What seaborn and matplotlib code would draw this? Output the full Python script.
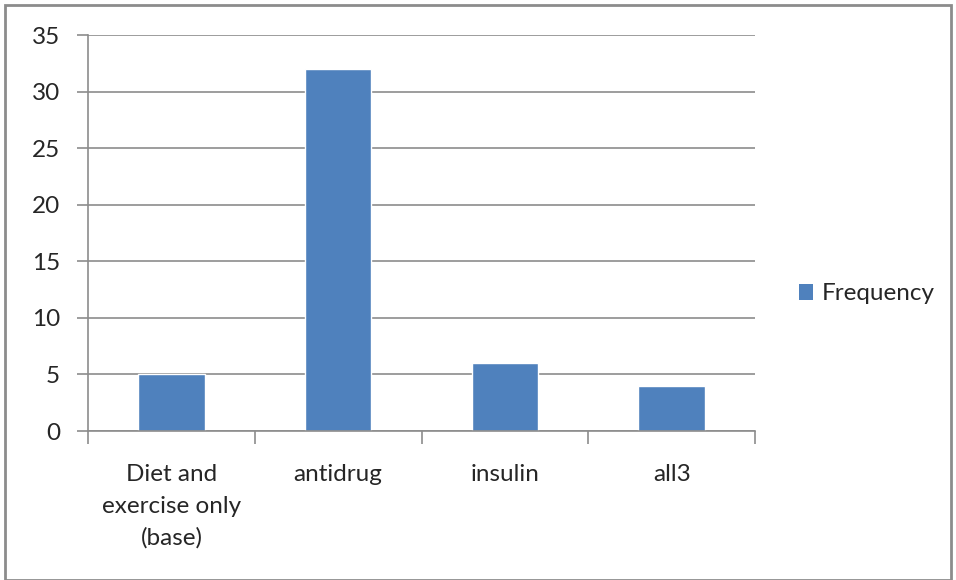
import matplotlib
matplotlib.use("Agg")
import matplotlib.pyplot as plt
from matplotlib.patches import Rectangle, Patch
import pandas as pd
import seaborn as sns

categories = ["Diet and\nexercise only\n(base)", "antidrug", "insulin", "all3"]
frequency = [5, 32, 6, 4]
y_ticks = [0, 5, 10, 15, 20, 25, 30, 35]

df = pd.DataFrame({"treatment": categories, "Frequency": frequency})

sns.set_style("white")
plt.rcParams["font.family"] = ["Lato", "DejaVu Sans"]

bar_color = "#4F81BD"
grid_color = "#8C8C8C"
text_color = "#262626"

fig = plt.figure(figsize=(9.56, 5.8), dpi=100)
ax = fig.add_axes([88 / 956, 1 - 431 / 580, (755 - 88) / 956, (431 - 35) / 580])

sns.barplot(data=df, x="treatment", y="Frequency", color=bar_color,
            width=0.4, saturation=1, ax=ax)

ax.set_ylim(0, 35)
ax.set_xlim(-0.5, len(categories) - 0.5)
ax.set_yticks(y_ticks)
ax.yaxis.grid(True, color=grid_color, linewidth=1.2)
ax.set_axisbelow(True)
ax.set_xlabel("")
ax.set_ylabel("")

for side in ["top", "right"]:
    ax.spines[side].set_visible(False)
for side in ["left", "bottom"]:
    ax.spines[side].set_color(grid_color)
    ax.spines[side].set_linewidth(1.2)

# y ticks as short gray stubs, x ticks at category boundaries
ax.tick_params(axis="y", length=8, width=1.2, color=grid_color, left=True,
               labelsize=17.5, labelcolor=text_color, pad=12)
ax.set_xticks([i + 0.5 for i in range(-1, len(categories))], minor=True)
ax.tick_params(axis="x", which="minor", length=9, width=1.2, color=grid_color,
               bottom=True, direction="out")
ax.tick_params(axis="x", which="major", length=0, labelsize=17.5,
               labelcolor=text_color, pad=24)
for lbl in ax.get_xticklabels():
    lbl.set_linespacing(1.6)

handles = [Patch(facecolor=bar_color, edgecolor="none", label="Frequency")]
fig.legend(handles=handles, loc="center left", bbox_to_anchor=(777 / 956, 1 - 294 / 580),
           frameon=False, fontsize=17.5, handlelength=0.6, handleheight=0.6,
           handletextpad=0.35, labelcolor=text_color)

fig.patches.append(Rectangle((5 / 956, 0), 946 / 956, 1 - 5 / 580, transform=fig.transFigure,
                             fill=False, edgecolor="#8C8C8C", linewidth=2))

fig.savefig("out.png", dpi=100)
